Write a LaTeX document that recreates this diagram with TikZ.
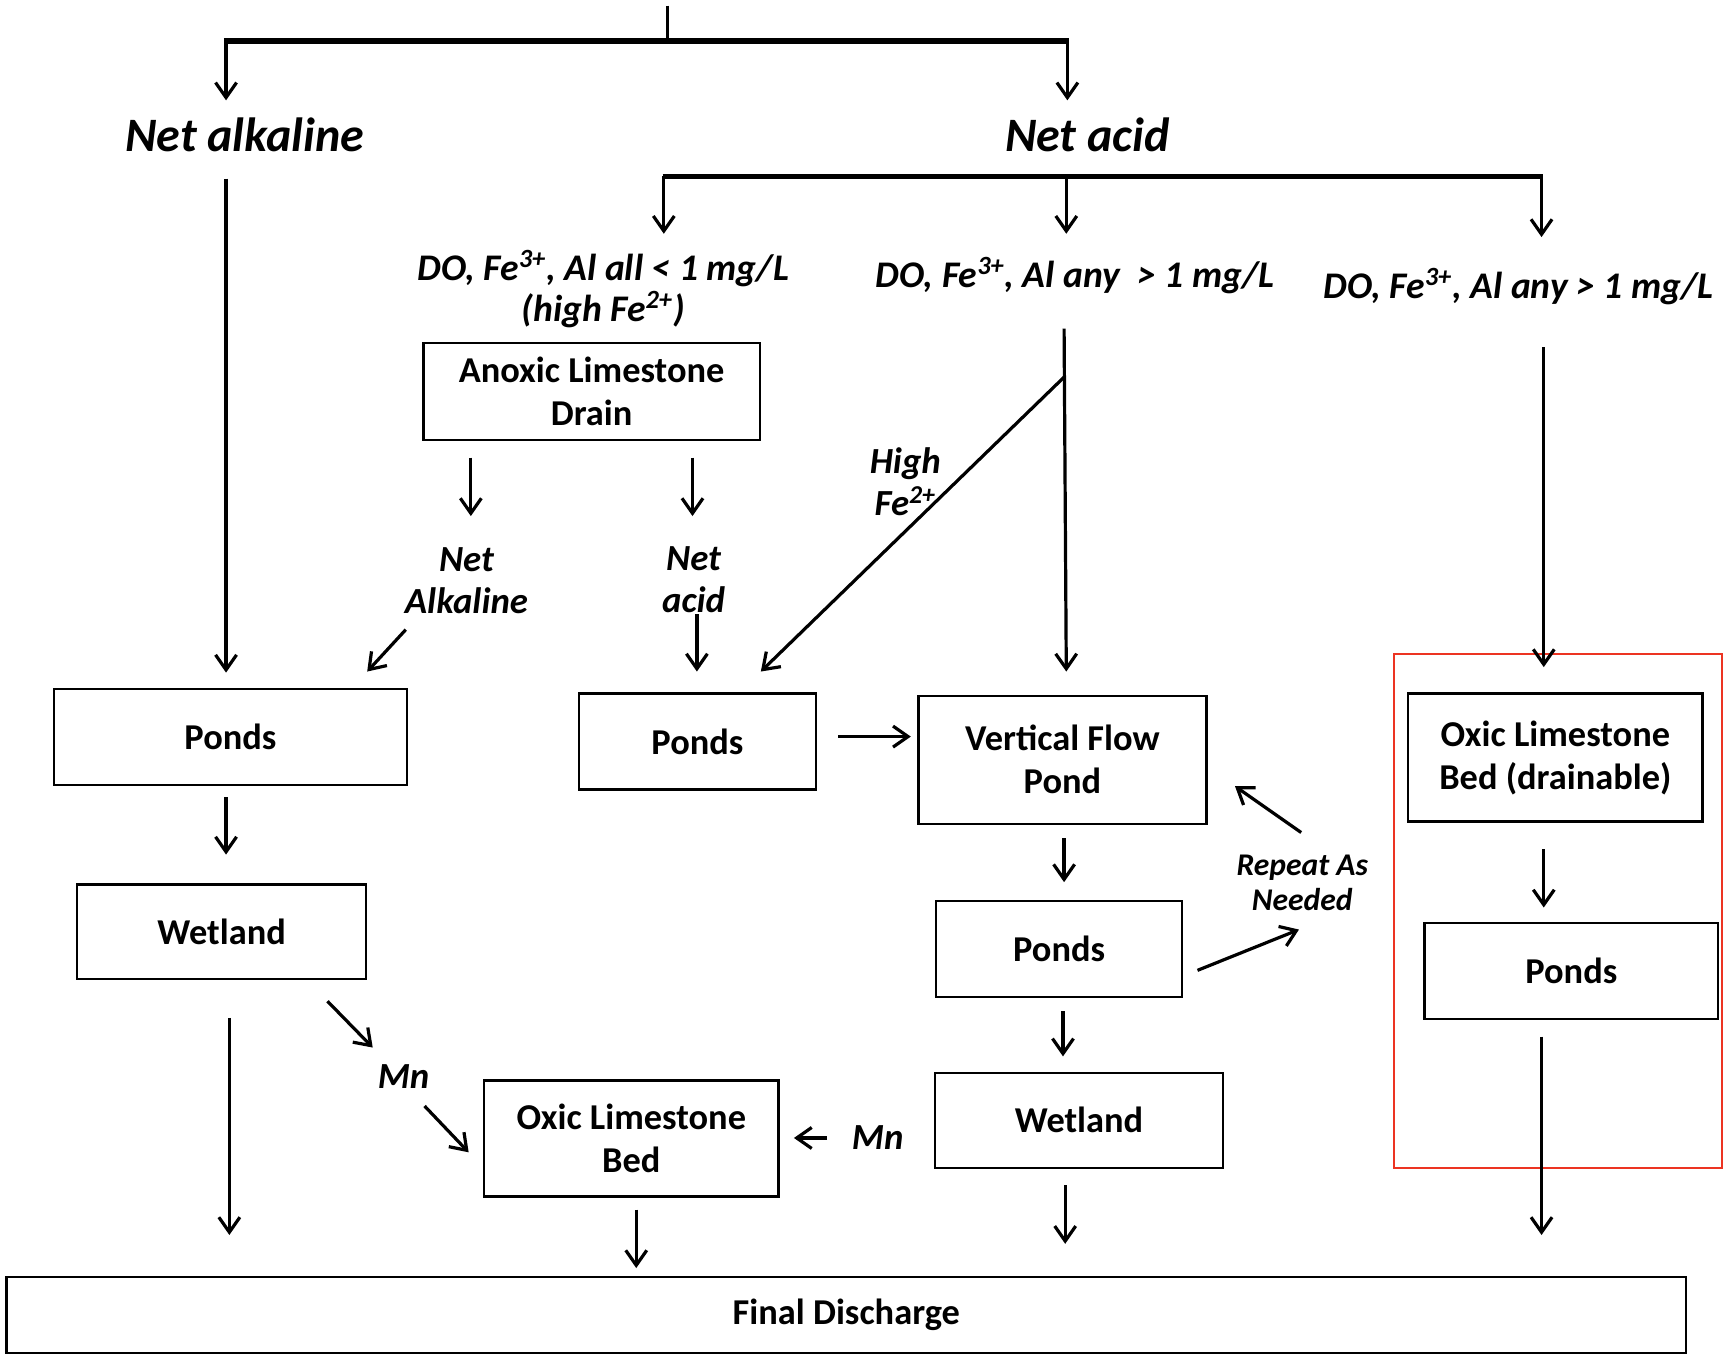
\documentclass[tikz,border=0pt]{standalone}
\usepackage{fontspec}
\setmainfont{Carlito}
\usetikzlibrary{arrows.meta}
\definecolor{hlred}{RGB}{236,52,34}
\begin{document}
\begin{tikzpicture}[x=0.55134pt,y=-0.55134pt,
  box/.style={draw, line width=1.2pt, inner sep=0pt, align=center, font=\bfseries\fontsize{18.2}{21.5}\selectfont},
  lbl/.style={inner sep=0pt, align=center, font=\bfseries\itshape\fontsize{18.4}{21}\selectfont},
  big/.style={inner sep=0pt, font=\bfseries\itshape\fontsize{24}{28}\selectfont},
  cond/.style={inner sep=0pt, align=center, font=\bfseries\itshape\fontsize{18.8}{20.4}\selectfont},
  arr/.style={line width=1.6pt, -{Straight Barb[length=7.5pt,width=10.5pt,line width=1.6pt]}},
  plain/.style={line width=1.6pt},
  bar/.style={line width=2.8pt},
]
\useasboundingbox (0,0) rectangle (1568,1228);

% ---------- top split ----------
\coordinate (top) at (605,5);
\coordinate (b1m) at (605,37);
\coordinate (b1l) at (203,37);
\coordinate (b1r) at (969,37);
\draw[plain] (top) -- (b1m);
\draw[bar] (b1l) -- (b1r);
\node[big] (netalk) at (222,122) {Net alkaline};
\node[big] (netacid) at (986,122) {Net acid};
\draw[arr] (205,37) -- (205,91);
\draw[arr] (968,37) -- (968,91);

% ---------- second split ----------
\coordinate (b2l) at (601,160);
\coordinate (b2r) at (1399,160);
\draw[bar] (b2l) -- (b2r);
\draw[arr] (602,160) -- (602,212);
\draw[arr] (967,160) -- (967,212);
\draw[arr] (1398,160) -- (1398,215);

\node[cond] (c1) at (547,262) {DO, Fe\textsuperscript{3+}, Al all < 1 mg/L\\(high Fe\textsuperscript{2+})};
\node[cond] (c2) at (975,250) {DO, Fe\textsuperscript{3+}, Al any \ > 1 mg/L};
\node[cond] (c3) at (1377,260) {DO, Fe\textsuperscript{3+}, Al any > 1 mg/L};

% ---------- boxes ----------
\node[box, minimum width=168.2pt, minimum height=48.5pt] (ald) at (536.5,355) {Anoxic Limestone\\Drain};
\node[box, minimum width=176.4pt, minimum height=48pt] (pondsL) at (209,668.5) {Ponds};
\node[box, minimum width=118.5pt, minimum height=48pt] (pondsM) at (632.5,672.5) {Ponds};
\node[box, minimum width=143.9pt, minimum height=64pt] (vfp) at (963.5,689) {Vertical Flow\\Pond};
\node[box, minimum width=147.2pt, minimum height=64pt] (olbd) at (1410.5,687) {Oxic Limestone\\Bed (drainable)};
\node[box, minimum width=146.7pt, minimum height=48pt] (pondsR) at (1425,880.5) {Ponds};
\node[box, minimum width=144.5pt, minimum height=47.4pt] (wetL) at (201,845) {Wetland};
\node[box, minimum width=147.2pt, minimum height=57.9pt] (olb) at (572.5,1032.5) {Oxic Limestone\\Bed};
\node[box, minimum width=122.9pt, minimum height=48pt] (pondsC) at (960.5,860.5) {Ponds};
\node[box, minimum width=143.9pt, minimum height=47.4pt] (wetC) at (978.5,1016) {Wetland};
\node[box, minimum width=839.7pt, minimum height=38pt] (final) at (767.5,1192.5) {Final Discharge};
\node[draw=hlred, line width=1pt, inner sep=0pt, minimum width=164.3pt, minimum height=256.9pt] (hl) at (1413,826) {};

% ---------- labels ----------
\node[lbl] (na2) at (423,527) {Net\\Alkaline};
\node[lbl] (nac2) at (629,526) {Net\\acid};
\node[lbl] (hife) at (821,437) {High\\Fe\textsuperscript{2+}};
\node[lbl] (mn1) at (366,976) {Mn};
\node[lbl] (mn2) at (796,1032) {Mn};
\node[lbl, font=\bfseries\itshape\fontsize{15.8}{17.6}\selectfont] (rep) at (1181,801) {Repeat As\\Needed};

% ---------- left column ----------
\draw[arr] (205,162) -- (205,610);
\draw[arr] (205,723) -- (205,775);
\draw[arr] (208,923) -- (208,1120);
\draw[arr] (297,908) -- (338,950);
\draw[arr] (385,1003) -- (425,1045);

% ---------- ALD branch ----------
\draw[arr] (427,415) -- (427,468);
\draw[arr] (628,415) -- (628,468);
\draw[arr] (368,571) -- (333,609);
\draw[arr] (632,557) -- (632,609);
\draw[arr] (577,1097) -- (577,1150);
\draw[arr] (750,1032) -- (720,1032);

% ---------- middle branch ----------
\coordinate (split) at (965,342);
\draw[arr] (965,298) -- (967,609);
\draw[arr] (split) -- (690,609);
\draw[arr] (760,668) -- (826,668);
\draw[arr] (965,760) -- (965,800);
\draw[arr] (964,917) -- (964,958);
\draw[arr] (966,1075) -- (966,1128);
\draw[arr] (1086,880) -- (1178,843);
\draw[arr] (1180,755) -- (1120,713);

% ---------- right branch ----------
\draw[arr] (1400,315) -- (1400,605);
\draw[arr] (1400,770) -- (1400,823);
\draw[arr] (1398,940) -- (1398,1120);
\end{tikzpicture}
\end{document}
